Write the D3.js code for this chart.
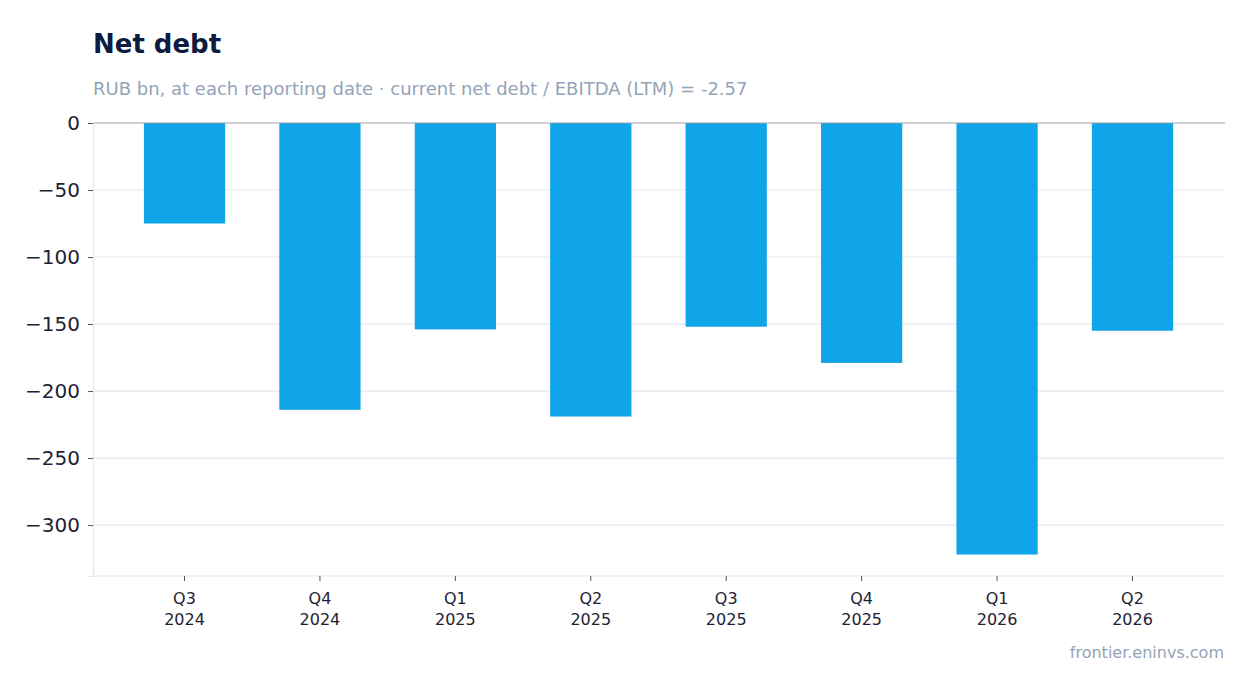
<!DOCTYPE html>
<html>
<head>
<meta charset="utf-8">
<script src="https://cdn.jsdelivr.net/npm/d3@7"></script>
<style>
  body { margin: 0; background: #fff; font-family: "DejaVu Sans", sans-serif; }
</style>
</head>
<body>
<div id="chart"></div>
<script>
const quarters = ["Q3", "Q4", "Q1", "Q2", "Q3", "Q4", "Q1", "Q2"];
const years = ["2024", "2024", "2025", "2025", "2025", "2025", "2026", "2026"];
const netDebt = [-75, -214, -154, -219, -152, -179, -322, -155];
const yTicks = [0, -50, -100, -150, -200, -250, -300];

const width = 1255, height = 693;
const plotLeft = 93, plotRight = 1225, plotTop = 123, plotBottom = 576;

const svg = d3.select("#chart").append("svg")
  .attr("width", width).attr("height", height);

const labels = quarters.map((q, i) => q + "\n" + years[i]);

const x = d3.scaleBand()
  .domain(labels)
  .range([116.8, 1200.2])
  .paddingInner(0.4)
  .paddingOuter(0.2);

const y = d3.scaleLinear().domain([0, -338]).range([plotTop, plotBottom]);

// grid
svg.append("g").selectAll("line")
  .data(yTicks.filter(d => d !== 0))
  .enter().append("line")
  .attr("x1", plotLeft).attr("x2", plotRight)
  .attr("y1", d => y(d)).attr("y2", d => y(d))
  .attr("stroke", "#e3e7ee").attr("stroke-width", 1.2);

// bars
svg.selectAll(".bar")
  .data(netDebt)
  .enter().append("rect")
  .attr("class", "bar")
  .attr("x", (d, i) => x(labels[i]))
  .attr("y", y(0))
  .attr("width", x.bandwidth())
  .attr("height", d => y(d) - y(0))
  .attr("fill", "#10a5e8");

// zero line
svg.append("line")
  .attr("x1", plotLeft).attr("x2", plotRight)
  .attr("y1", y(0)).attr("y2", y(0))
  .attr("stroke", "#9aa0a8").attr("stroke-width", 1);

// y axis
const yAxis = svg.append("g")
  .attr("transform", `translate(${plotLeft},0)`)
  .call(d3.axisLeft(y).tickValues(yTicks).tickSize(5).tickPadding(8).tickFormat(d3.format("d")));
yAxis.select(".domain").attr("stroke", "#e3e7ee");
yAxis.selectAll(".tick line").attr("stroke", "#555");
yAxis.selectAll("text")
  .attr("font-size", 20).attr("fill", "#1f2233")
  .attr("font-family", "DejaVu Sans, sans-serif");

// x axis
const xAxis = svg.append("g")
  .attr("transform", `translate(0,${plotBottom})`)
  .call(d3.axisBottom(x).tickSize(5).tickSizeOuter(0).tickFormat(""));
xAxis.select(".domain").attr("stroke", "#e3e7ee").attr("d", `M${plotLeft},0H${plotRight}`);
xAxis.selectAll(".tick line").attr("stroke", "#555");
xAxis.selectAll(".tick").each(function(d) {
  const parts = d.split("\n");
  const t = d3.select(this).append("text")
    .attr("fill", "#1f2233").attr("font-size", 16)
    .attr("font-family", "DejaVu Sans, sans-serif")
    .attr("text-anchor", "middle");
  t.append("tspan").attr("x", 0).attr("y", 28).text(parts[0]);
  t.append("tspan").attr("x", 0).attr("y", 49).text(parts[1]);
});

// titles
svg.append("text").attr("x", 93).attr("y", 53)
  .attr("font-size", 26).attr("font-weight", "bold").attr("fill", "#0d1b40")
  .text("Net debt");
svg.append("text").attr("x", 93).attr("y", 95)
  .attr("font-size", 18).attr("fill", "#94a3b8")
  .text("RUB bn, at each reporting date · current net debt / EBITDA (LTM) = -2.57");
svg.append("text").attr("x", 1224).attr("y", 658)
  .attr("font-size", 16).attr("fill", "#94a3b8").attr("text-anchor", "end")
  .text("frontier.eninvs.com");
</script>
</body>
</html>
